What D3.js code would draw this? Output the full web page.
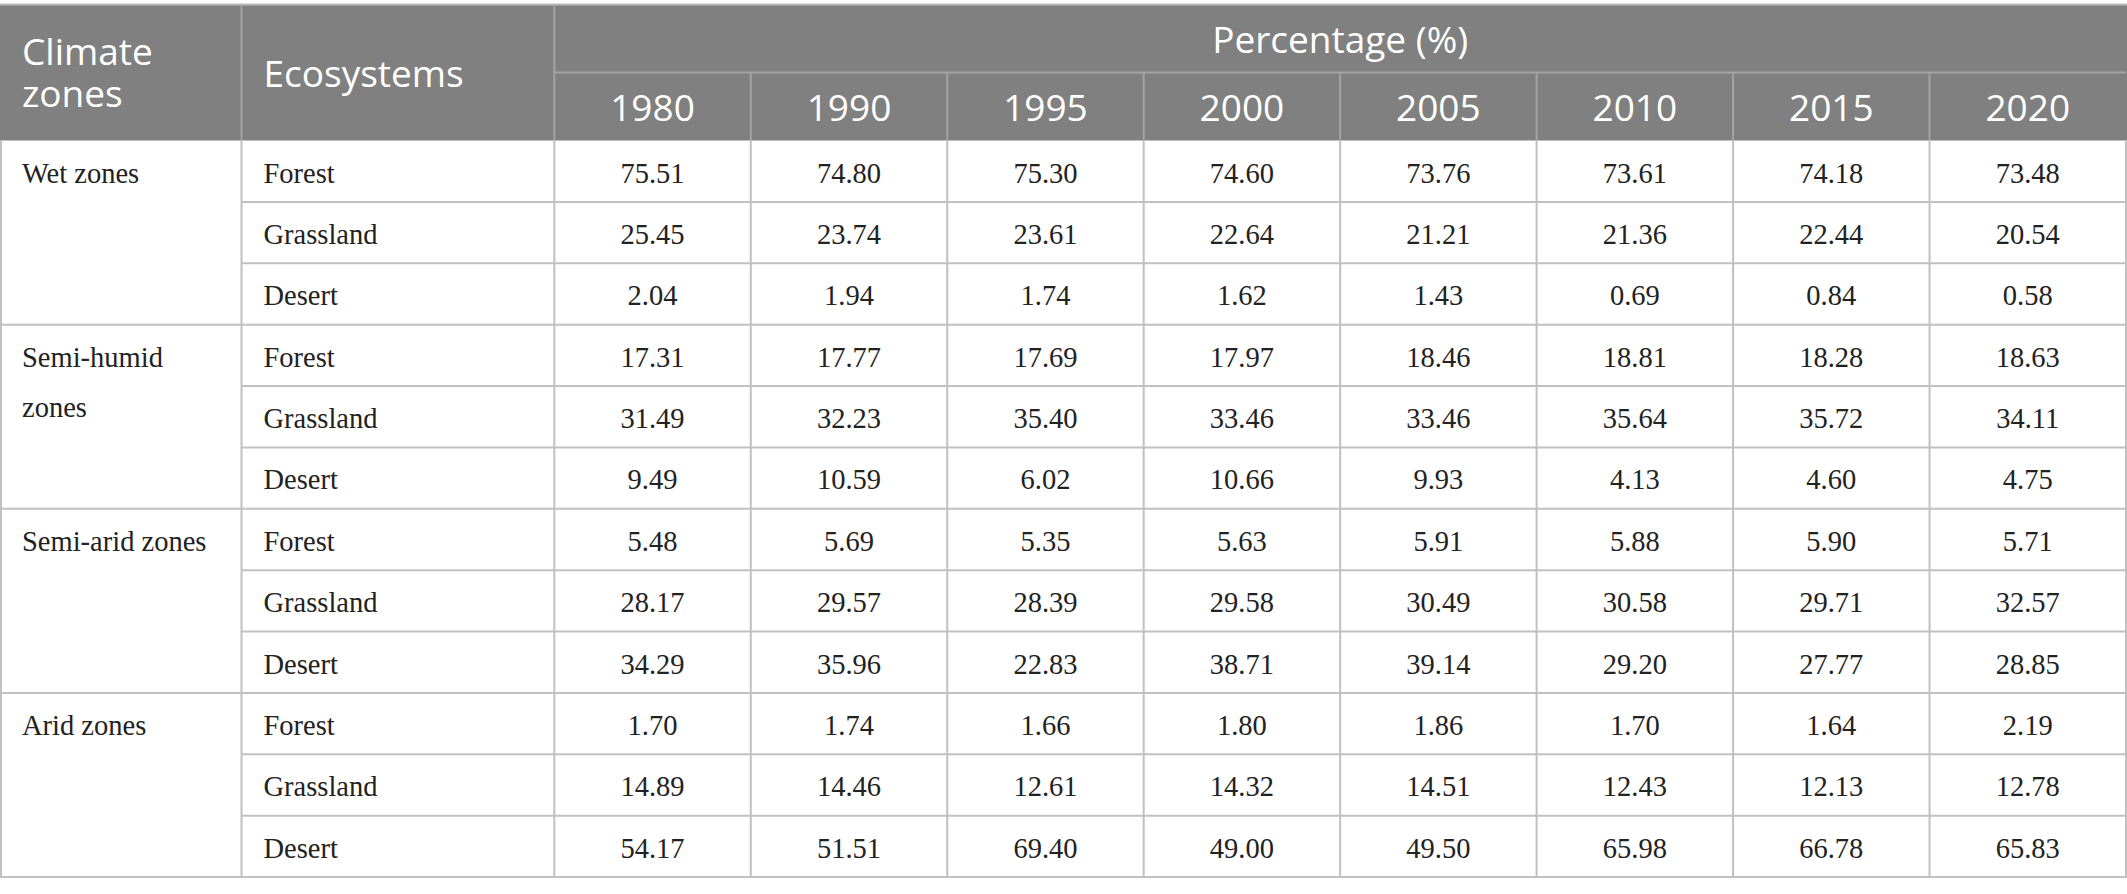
<!DOCTYPE html>
<html>
<head>
<meta charset="utf-8">
<script src="https://cdn.jsdelivr.net/npm/d3@7"></script>
<style>
  html, body { margin: 0; padding: 0; background: #fff; }
  svg { display: block; }
</style>
</head>
<body>
<svg id="chart" width="2127" height="894"></svg>
<script>
// ---------- DATA ----------
const climateZones = ["Wet zones", "Semi-humid zones", "Semi-arid zones", "Arid zones"];
const ecosystems = ["Forest", "Grassland", "Desert"];
const years = ["1980", "1990", "1995", "2000", "2005", "2010", "2015", "2020"];
const headerClimate = "Climate zones";
const headerEco = "Ecosystems";
const headerPct = "Percentage (%)";

const wetForest        = [75.51, 74.80, 75.30, 74.60, 73.76, 73.61, 74.18, 73.48];
const wetGrassland     = [25.45, 23.74, 23.61, 22.64, 21.21, 21.36, 22.44, 20.54];
const wetDesert        = [2.04, 1.94, 1.74, 1.62, 1.43, 0.69, 0.84, 0.58];
const semiHumidForest    = [17.31, 17.77, 17.69, 17.97, 18.46, 18.81, 18.28, 18.63];
const semiHumidGrassland = [31.49, 32.23, 35.40, 33.46, 33.46, 35.64, 35.72, 34.11];
const semiHumidDesert    = [9.49, 10.59, 6.02, 10.66, 9.93, 4.13, 4.60, 4.75];
const semiAridForest    = [5.48, 5.69, 5.35, 5.63, 5.91, 5.88, 5.90, 5.71];
const semiAridGrassland = [28.17, 29.57, 28.39, 29.58, 30.49, 30.58, 29.71, 32.57];
const semiAridDesert    = [34.29, 35.96, 22.83, 38.71, 39.14, 29.20, 27.77, 28.85];
const aridForest    = [1.70, 1.74, 1.66, 1.80, 1.86, 1.70, 1.64, 2.19];
const aridGrassland = [14.89, 14.46, 12.61, 14.32, 14.51, 12.43, 12.13, 12.78];
const aridDesert    = [54.17, 51.51, 69.40, 49.00, 49.50, 65.98, 66.78, 65.83];

const zoneValues = [
  [wetForest, wetGrassland, wetDesert],
  [semiHumidForest, semiHumidGrassland, semiHumidDesert],
  [semiAridForest, semiAridGrassland, semiAridDesert],
  [aridForest, aridGrassland, aridDesert]
];

// ---------- TABLE ROWS ----------
const rows = [];
climateZones.forEach((z, zi) => {
  ecosystems.forEach((e, ei) => {
    rows.push({ zone: z, zi, eco: e, ei, values: zoneValues[zi][ei] });
  });
});

// ---------- LAYOUT ----------
const W = 2127;
const yTop = 4.5, headerMid = 72.5, headerBottom = 140.5, yBottom = 877;
const xClimate = 0, xEco = 241.5, xYears = 554.3, xRight = 2126;
const padL = 22;

const sans = "'Open Sans', Lato, sans-serif";
const serif = "'Liberation Serif', 'Times New Roman', serif";
const headerFill = "#808080";
const headerLine = "#a3a3a3";
const bodyLine = "#c0c0c0";
const textDark = "#222222";

const xYear = d3.scaleBand().domain(years).range([xYears, xRight]);
const yRow = d3.scaleBand().domain(d3.range(rows.length)).range([headerBottom, yBottom]);
const fmt = d3.format(".2f");

const svg = d3.select("#chart");

// header background
svg.append("rect")
  .attr("x", 0).attr("y", yTop)
  .attr("width", W).attr("height", headerBottom - yTop)
  .attr("fill", headerFill);

// top border
svg.append("line")
  .attr("x1", 0).attr("x2", W).attr("y1", yTop).attr("y2", yTop)
  .attr("stroke", "#bdbdbd").attr("stroke-width", 2);

const hdrLines = svg.append("g").attr("stroke", headerLine).attr("stroke-width", 2);
[xEco, xYears].forEach(x => {
  hdrLines.append("line").attr("x1", x).attr("x2", x).attr("y1", yTop).attr("y2", headerBottom);
});
hdrLines.append("line").attr("x1", xYears).attr("x2", xRight).attr("y1", headerMid).attr("y2", headerMid);
years.slice(1).forEach(yr => {
  const x = xYear(yr);
  hdrLines.append("line").attr("x1", x).attr("x2", x).attr("y1", headerMid).attr("y2", headerBottom);
});

// header texts
const hdrText = svg.append("g").attr("fill", "#ffffff").style("font-family", sans).style("font-size", "37px");
const climateWords = headerClimate.split(" ");
const climText = hdrText.append("text").attr("x", xClimate + padL).attr("y", 65);
climText.append("tspan").attr("x", xClimate + padL).attr("y", 65).text(climateWords[0]);
climText.append("tspan").attr("x", xClimate + padL).attr("y", 107).text(climateWords.slice(1).join(" "));
hdrText.append("text").attr("x", xEco + padL).attr("y", 87).text(headerEco);
hdrText.append("text").attr("x", (xYears + xRight) / 2).attr("y", 53.3)
  .attr("text-anchor", "middle").text(headerPct);
hdrText.selectAll("text.yr").data(years).join("text").attr("class", "yr")
  .attr("x", d => xYear(d) + xYear.bandwidth() / 2)
  .attr("y", 120.7)
  .attr("text-anchor", "middle")
  .text(d => d);

// body lines
const bl = svg.append("g").attr("stroke", bodyLine).attr("stroke-width", 2);
rows.forEach((r, i) => {
  const y = yRow(i) + yRow.bandwidth();
  const groupEnd = (r.ei === ecosystems.length - 1);
  bl.append("line")
    .attr("x1", groupEnd ? 0 : xEco).attr("x2", W)
    .attr("y1", y).attr("y2", y);
});
[1, xEco, ...years.slice(1).map(y => xYear(y)), xYears, xRight].forEach(x => {
  bl.append("line").attr("x1", x).attr("x2", x).attr("y1", headerBottom).attr("y2", yBottom);
});

// body text
const bt = svg.append("g").attr("fill", textDark).style("font-family", serif).style("font-size", "28.5px");
const baseOff = 42;
const lineH = 50;
const maxW = xEco - xClimate - 2 * padL;

rows.forEach((r, i) => {
  const y0 = yRow(i) + baseOff;
  if (r.ei === 0) {
    const t = bt.append("text").attr("x", xClimate + padL).attr("y", y0);
    const words = r.zone.split(" ");
    let line = [];
    let lineNo = 0;
    let tspan = t.append("tspan").attr("x", xClimate + padL).attr("y", y0);
    words.forEach(w => {
      line.push(w);
      tspan.text(line.join(" "));
      if (tspan.node().getComputedTextLength() > maxW && line.length > 1) {
        line.pop();
        tspan.text(line.join(" "));
        line = [w];
        lineNo++;
        tspan = t.append("tspan").attr("x", xClimate + padL).attr("y", y0 + lineNo * lineH).text(w);
      }
    });
  }
  bt.append("text").attr("x", xEco + padL).attr("y", y0).text(r.eco);
  years.forEach((yr, k) => {
    bt.append("text")
      .attr("x", xYear(yr) + xYear.bandwidth() / 2)
      .attr("y", y0)
      .attr("text-anchor", "middle")
      .text(fmt(r.values[k]));
  });
});
</script>
</body>
</html>
